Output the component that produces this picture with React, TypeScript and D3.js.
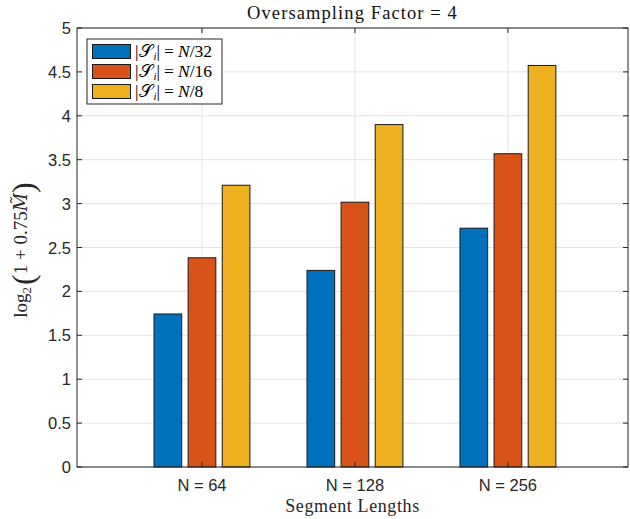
import React from "react";
import * as d3 from "d3";

const groups = ["N = 64", "N = 128", "N = 256"];
const seriesNames = ["32", "16", "8"];
const s32 = [1.743, 2.239, 2.72];
const s16 = [2.383, 3.016, 3.568];
const s8 = [3.209, 3.9, 4.573];
const yTicks = [0, 0.5, 1, 1.5, 2, 2.5, 3, 3.5, 4, 4.5, 5];
const colors = ["#0072BD", "#D95319", "#EDB120"];

const W = 630;
const H = 519;
const margin = { top: 28, right: 2, bottom: 52, left: 77 };

export default function App() {
  const series = [s32, s16, s8];
  const x = d3
    .scaleLinear()
    .domain([0.183, 3.785])
    .range([margin.left, W - margin.right]);
  const y = d3
    .scaleLinear()
    .domain([0, 5])
    .range([H - margin.bottom, margin.top]);

  const unit = x(2) - x(1);
  const barW = 0.181 * unit;
  const offset = 0.223 * unit;
  const left = margin.left;
  const right = W - margin.right;
  const top = margin.top;
  const bottom = H - margin.bottom;
  const sans = "'Liberation Sans', Arial, sans-serif";
  const serif = "'Liberation Serif', 'DejaVu Serif', serif";

  return (
    <svg width={W} height={H} style={{ position: "absolute", left: 0, top: 0 }}>
      <rect width={W} height={H} fill="#fff" />
      {/* grid */}
      {yTicks.map((t) => (
        <line key={"gy" + t} x1={left} x2={right} y1={y(t)} y2={y(t)} stroke="#e3e3e3" strokeWidth={1} />
      ))}
      {groups.map((g, i) => (
        <line key={"gx" + g} x1={x(i + 1)} x2={x(i + 1)} y1={top} y2={bottom} stroke="#e3e3e3" strokeWidth={1} />
      ))}
      {/* bars */}
      {series.map((vals, si) =>
        vals.map((v, gi) => {
          const cx = x(gi + 1) + (si - 1) * offset;
          return (
            <rect
              key={si + "-" + gi}
              x={cx - barW / 2}
              y={y(v)}
              width={barW}
              height={y(0) - y(v)}
              fill={colors[si]}
              stroke="#1a1a1a"
              strokeWidth={1}
            />
          );
        })
      )}
      {/* axes box */}
      <rect x={left} y={top} width={right - left} height={bottom - top} fill="none" stroke="#262626" strokeWidth={1} />
      {yTicks.map((t) => (
        <g key={"ty" + t}>
          <line x1={left} x2={left + 5} y1={y(t)} y2={y(t)} stroke="#262626" />
          <line x1={right} x2={right - 5} y1={y(t)} y2={y(t)} stroke="#262626" />
          <text x={left - 6} y={y(t) + 6} textAnchor="end" fontFamily={sans} fontSize={16.5} fill="#262626">
            {t}
          </text>
        </g>
      ))}
      {groups.map((g, i) => (
        <g key={"tx" + g}>
          <line x1={x(i + 1)} x2={x(i + 1)} y1={bottom} y2={bottom - 5} stroke="#262626" />
          <line x1={x(i + 1)} x2={x(i + 1)} y1={top} y2={top + 5} stroke="#262626" />
          <text x={x(i + 1)} y={491} textAnchor="middle" fontFamily={sans} fontSize={16.5} fill="#262626">
            {g}
          </text>
        </g>
      ))}
      {/* title and labels */}
      <text x={(left + right) / 2} y={19} textAnchor="middle" fontFamily={serif} fontSize={18.5} letterSpacing={1.1} fill="#111">
        Oversampling Factor = 4
      </text>
      <text x={(left + right) / 2} y={512} textAnchor="middle" fontFamily={serif} fontSize={18} letterSpacing={0.6} fill="#262626">
        Segment Lengths
      </text>
      <text
        transform={`translate(27,250) rotate(-90)`}
        textAnchor="middle"
        fontFamily={serif}
        fontSize={19}
        fill="#262626"
      >
        <tspan>log</tspan>
        <tspan fontSize={13} dy={4}>2</tspan>
        <tspan fontSize={32} dy={3} dx={2}>(</tspan>
        <tspan fontSize={19} dy={-7}>1 + 0.75</tspan>
        <tspan fontStyle="italic" fontFamily="'DejaVu Serif', serif" fontSize={18}>M̃</tspan>
        <tspan fontSize={32} dy={7}>)</tspan>
      </text>
      {/* legend */}
      <g>
        <rect x={87} y={39} width={135} height={65} fill="#fff" stroke="#262626" strokeWidth={1} />
        {seriesNames.map((n, i) => {
          const ry = 44.5 + i * 20;
          return (
            <g key={"lg" + n}>
              <rect x={92.5} y={ry} width={38} height={14} fill={colors[i]} stroke="#1a1a1a" strokeWidth={1} />
              <text x={135} y={ry + 12.5} fontFamily={serif} fontSize={17.5} fill="#000">
                {`|\u{1D4AE}`}
                <tspan fontStyle="italic" fontSize={11} dy={3} dx={1}>i</tspan>
                <tspan dy={-3}>|</tspan>
                <tspan dx={4}>=</tspan>
                <tspan dx={4} fontStyle="italic">N</tspan>
                <tspan>{`/${n}`}</tspan>
              </text>
            </g>
          );
        })}
      </g>
    </svg>
  );
}
